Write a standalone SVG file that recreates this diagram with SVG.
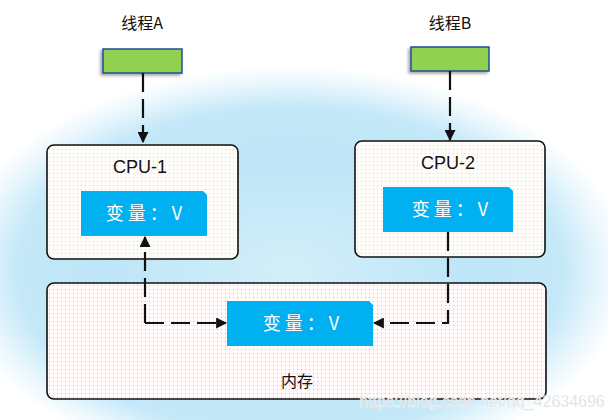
<svg xmlns="http://www.w3.org/2000/svg" width="608" height="420" viewBox="0 0 608 420">
<defs>
<radialGradient id="glow" cx="290" cy="270" r="340" gradientUnits="userSpaceOnUse" gradientTransform="translate(290 270) scale(1 0.6) translate(-290 -270)">
<stop offset="0" stop-color="#d3eff9"/>
<stop offset="0.55" stop-color="#bde5f7"/>
<stop offset="0.8" stop-color="#c4e8f8"/>
<stop offset="0.92" stop-color="#eaf7fd"/>
<stop offset="1" stop-color="#ffffff"/>
</radialGradient>
<pattern id="dotsO" width="4" height="4" patternUnits="userSpaceOnUse">
<rect width="4" height="4" fill="#fffdf9"/>
<rect x="1" y="1" width="1" height="1" fill="#f6cf9a"/>
</pattern>
<pattern id="dotsR" width="4" height="4" patternUnits="userSpaceOnUse">
<rect width="4" height="4" fill="#fff9f9"/>
<rect x="1" y="1" width="1" height="1" fill="#f2a9a9"/>
</pattern>
<marker id="arr" viewBox="0 0 10 10" refX="9" refY="5" markerWidth="11" markerHeight="11" markerUnits="userSpaceOnUse" orient="auto">
<path d="M0,0 L10,5 L0,10 Z" fill="#111"/>
</marker>
<filter id="sh" x="-20%" y="-30%" width="140%" height="170%">
<feDropShadow dx="-2" dy="2" stdDeviation="1.5" flood-color="#000" flood-opacity="0.35"/>
</filter>
</defs>
<style>
.lbl{font-family:"Noto Sans CJK SC","Liberation Sans",sans-serif;font-size:16px;fill:#111;text-anchor:middle}
.cpu{font-family:"Liberation Sans","Noto Sans",sans-serif;font-size:18px;fill:#111;text-anchor:middle}
.var{font-family:"Noto Sans CJK SC","Liberation Sans",sans-serif;font-size:18px;fill:#fff;text-anchor:middle;letter-spacing:4px}
.thr{fill:#92d050;stroke:#1f4e9a;stroke-width:1.5}
.box{stroke:#111;stroke-width:1.6}
.blue{fill:#00b0f0}
.con{fill:none;stroke:#111;stroke-width:2.2;stroke-dasharray:19 7}
</style>
<rect width="608" height="420" fill="#ffffff"/>
<rect x="0" y="50" width="608" height="370" fill="url(#glow)"/>
<g id="threadA">
<text class="lbl" x="142" y="29">线程A</text>
<rect class="thr" x="103" y="49" width="79" height="24" filter="url(#sh)"/>
</g>
<g id="threadB">
<text class="lbl" x="450" y="29">线程B</text>
<rect class="thr" x="411" y="47" width="78" height="24" filter="url(#sh)"/>
</g>
<g id="cpu1">
<rect class="box" x="47" y="145" width="191" height="114" rx="7" fill="url(#dotsO)"/>
<text class="cpu" x="140" y="173">CPU-1</text>
<path class="blue" d="M81,191 H203 L207,195 V236 H81 Z"/>
<text class="var" x="146" y="220">变量：V</text>
</g>
<g id="cpu2">
<rect class="box" x="355" y="141" width="190" height="116" rx="7" fill="url(#dotsO)"/>
<text class="cpu" x="448" y="169">CPU-2</text>
<path class="blue" d="M383,187 H509 L513,191 V232 H383 Z"/>
<text class="var" x="452" y="216">变量：V</text>
</g>
<g id="memory">
<rect class="box" x="47" y="283" width="499" height="116" rx="7" fill="url(#dotsR)"/>
<path class="blue" d="M227,301 H369 L373,305 V346 H227 Z"/>
<text class="var" x="303" y="330">变量：V</text>
<text class="lbl" x="297" y="387">内存</text>
</g>
<g id="connectors">
<path class="con" d="M143,73 V142" marker-end="url(#arr)"/>
<path class="con" d="M450,71 V140" marker-end="url(#arr)"/>
<path class="con" d="M145,323 V237" marker-end="url(#arr)"/>
<path class="con" d="M145,323 H226" marker-end="url(#arr)"/>
<path class="con" d="M448,232 V323 H374" marker-end="url(#arr)"/>
</g>
<text x="482" y="407" font-family="Liberation Sans,sans-serif" font-size="16" fill="#d6d6d6" stroke="#ffffff" stroke-width="0.4" text-anchor="middle">https://blog.csdn.net/qq_42634696</text>
</svg>
